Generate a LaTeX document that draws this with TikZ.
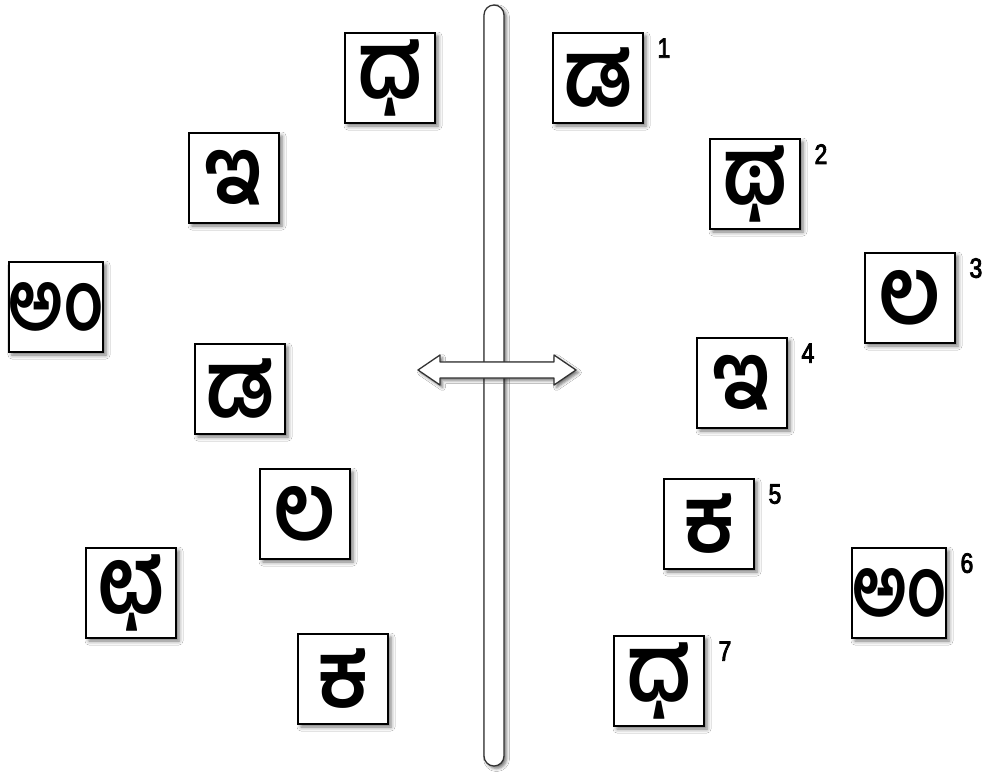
\documentclass[tikz,border=0pt]{standalone}
\usepackage{fontspec}
\usepackage{graphicx}
\setmainfont{Liberation Sans}
\newfontfamily\kn[Script=Kannada]{Hind Mysuru}
\newfontfamily\numfont[FakeStretch=0.82,FakeBold=3]{Liberation Sans}
\newcommand\kg[1]{\scalebox{1.02}[1.15]{#1}}
\newcommand\kw[1]{\scalebox{1.0}[1.3]{#1}}
\usetikzlibrary{shadows.blur}
\begin{document}
\begin{tikzpicture}[x=1pt,y=-1pt,
  cbox/.style={draw=black, line width=1.8pt, fill=white, minimum size=90pt, inner sep=0pt,
    font=\kn\bfseries\fontsize{80}{80}\selectfont,
    blur shadow={shadow xshift=3pt, shadow yshift=-3pt, shadow blur radius=4pt, shadow opacity=55}},
  small/.style={font=\kn\bfseries\fontsize{64}{64}\selectfont},
  num/.style={font=\numfont\fontsize{28}{28}\selectfont, inner sep=0pt},
  barstyle/.style={draw=black!80, line width=1.3pt, fill=white,
    blur shadow={shadow xshift=2.5pt, shadow yshift=-2.5pt, shadow blur radius=3pt, shadow opacity=55}}
]
\useasboundingbox[fill=white] (0,0) rectangle (984,772);
% central bar and double arrow
\draw[barstyle, rounded corners=10pt] (484,5) rectangle (504,766);
\draw[barstyle, line join=round] (418,370) -- (440,355) -- (440,362) -- (554,362) -- (554,355)
  -- (576,370) -- (554,385) -- (554,378) -- (440,378) -- (440,385) -- cycle;
\fill[white] (485.2,363) rectangle (502.8,377);
\coordinate (barcenter) at (494,370);
% left boxes
\node[cbox] (l1) at (390,78) {\kg{ಧ}};
\node[cbox] (l2) at (234,178) {\kg{ಇ}};
\node[cbox, small] (l3) at (56,307) {\kw{ಅಂ}};
\node[cbox] (l4) at (240,389) {\kg{ಡ}};
\node[cbox] (l5) at (305,514) {\kg{ಲ}};
\node[cbox] (l6) at (131,593) {\kg{ಛ}};
\node[cbox] (l7) at (343,679) {\kg{ಕ}};
% right boxes
\node[cbox] (r1) at (598,78) {\kg{ಡ}};
\node[cbox] (r2) at (755,184) {\kg{ಥ}};
\node[cbox] (r3) at (910,298) {\kg{ಲ}};
\node[cbox] (r4) at (742,383) {\kg{ಇ}};
\node[cbox] (r5) at (709,524) {\kg{ಕ}};
\node[cbox, small] (r6) at (899,593) {\kw{ಅಂ}};
\node[cbox] (r7) at (659,681) {\kg{ಧ}};
% numbers
\node[num] (n1) at ([shift={(20,16)}]r1.north east) {1};
\node[num] (n2) at ([shift={(20,16)}]r2.north east) {2};
\node[num] (n3) at ([shift={(20,16)}]r3.north east) {3};
\node[num] (n4) at ([shift={(20,16)}]r4.north east) {4};
\node[num] (n5) at ([shift={(20,16)}]r5.north east) {5};
\node[num] (n6) at ([shift={(20,16)}]r6.north east) {6};
\node[num] (n7) at ([shift={(20,16)}]r7.north east) {7};
\end{tikzpicture}
\end{document}
